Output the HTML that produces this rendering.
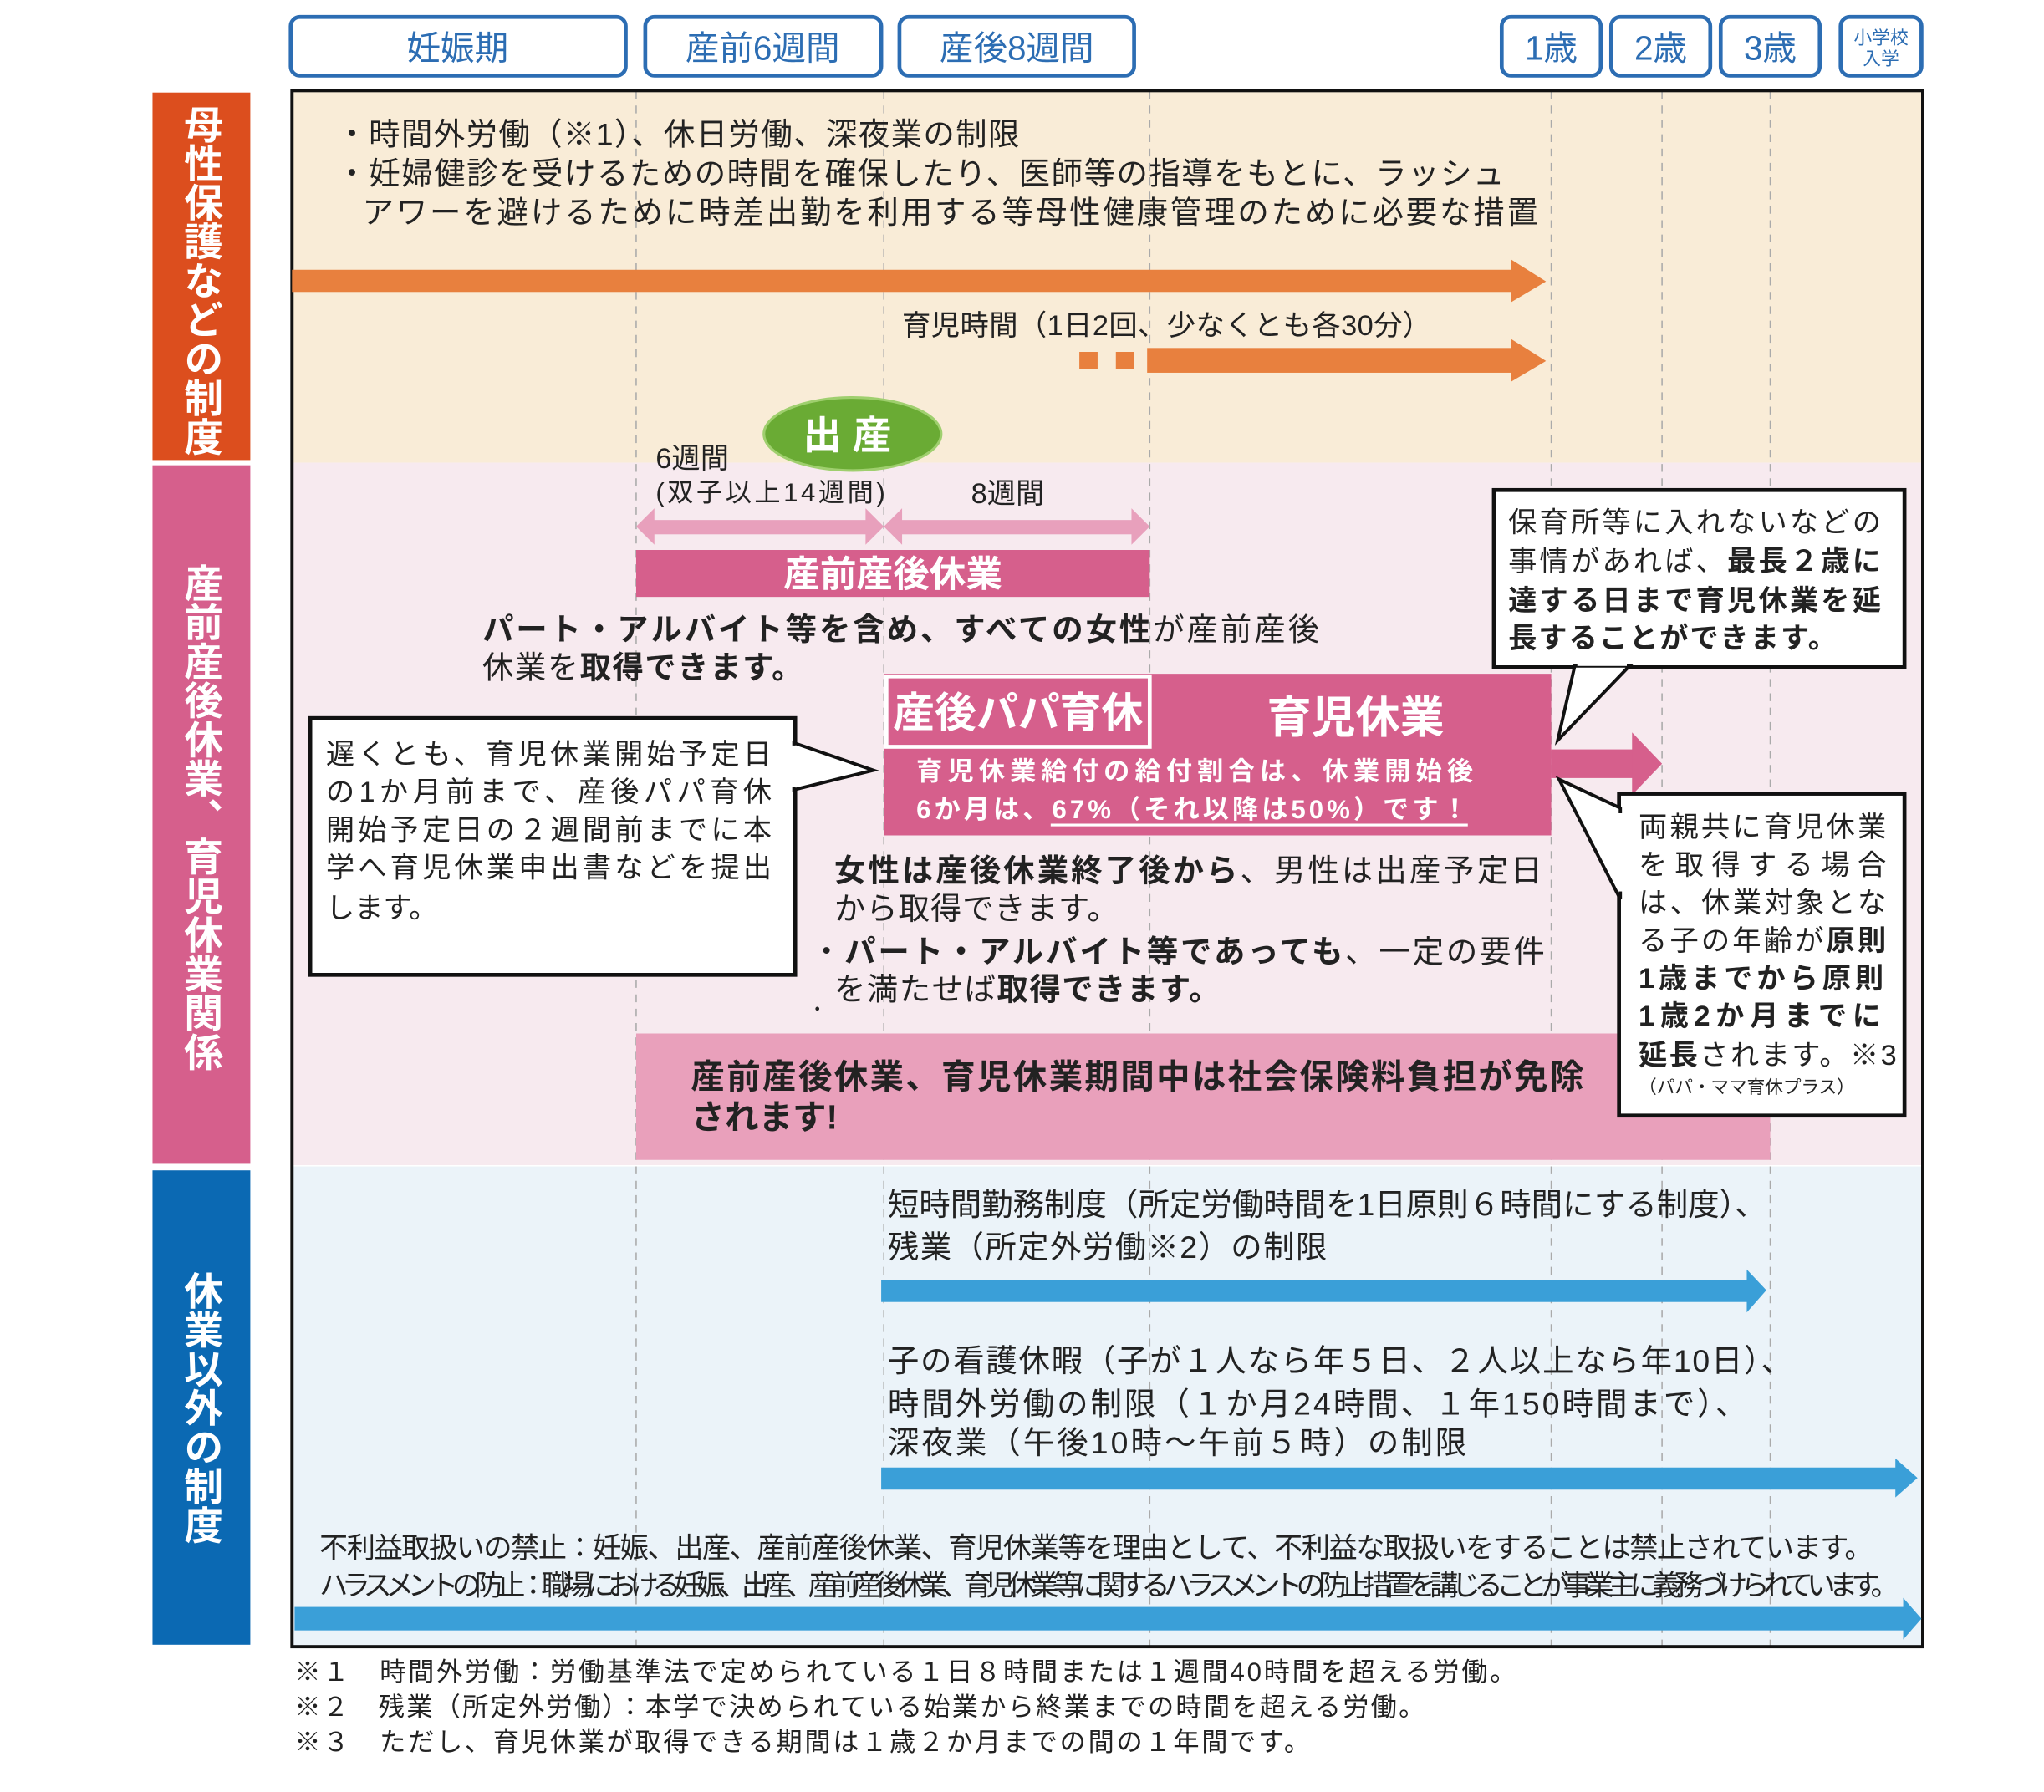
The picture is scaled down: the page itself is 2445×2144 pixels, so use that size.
<!DOCTYPE html>
<html><head><meta charset="utf-8"><style>
html,body{margin:0;padding:0;background:#fff;}
svg{display:block;}
text{font-family:"Liberation Sans","Noto Sans CJK JP",sans-serif;}
.b{font-weight:bold;}
</style></head><body>
<svg width="2445" height="2144" viewBox="0 0 1568 1375" xmlns="http://www.w3.org/2000/svg">
<rect width="1568" height="1375" fill="#fff"/>
<g fill="#fff" stroke="#2c6db3" stroke-width="3">
<rect x="223" y="13" width="257" height="45" rx="7"/>
<rect x="495" y="13" width="181" height="45" rx="7"/>
<rect x="690" y="13" width="180" height="45" rx="7"/>
<rect x="1152" y="13" width="76" height="45" rx="7"/>
<rect x="1236" y="13" width="76" height="45" rx="7"/>
<rect x="1320" y="13" width="76" height="45" rx="7"/>
<rect x="1412" y="13" width="62" height="45" rx="7"/>
</g>
<g fill="#2c6db3" font-size="26" text-anchor="middle" dominant-baseline="central">
<text x="351" y="37">妊娠期</text>
<text x="585" y="37">産前6週間</text>
<text x="780" y="37">産後8週間</text>
<text x="1190" y="37">1歳</text>
<text x="1274" y="37">2歳</text>
<text x="1358" y="37">3歳</text>
<text x="1443" y="29" font-size="14">小学校</text>
<text x="1443" y="45" font-size="14">入学</text>
</g>
<rect x="224" y="70" width="1251" height="285" fill="#f9ecd7"/>
<rect x="224" y="355" width="1251" height="539" fill="#f7eaef"/>
<rect x="224" y="895" width="1251" height="369" fill="#ebf3f9"/>
<rect x="117" y="71" width="75" height="282" fill="#dc4e1e"/>
<rect x="117" y="357" width="75" height="536" fill="#d65f8c"/>
<rect x="117" y="898" width="75" height="364" fill="#0b69b3"/>
<g fill="#fff" font-size="30" class="b">
<text x="154" y="80" style="writing-mode:tb">母性保護などの制度</text>
<text x="154" y="432" style="writing-mode:tb">産前産後休業、育児休業関係</text>
<text x="154" y="975" style="writing-mode:tb">休業以外の制度</text>
</g>
<g stroke="#aaa" stroke-width="1" stroke-dasharray="6,5">
<line x1="488" y1="70" x2="488" y2="1263"/>
<line x1="678" y1="70" x2="678" y2="1263"/>
<line x1="882" y1="70" x2="882" y2="1263"/>
<line x1="1190" y1="70" x2="1190" y2="1263"/>
<line x1="1275" y1="70" x2="1275" y2="1263"/>
<line x1="1358" y1="70" x2="1358" y2="1263"/>
</g>
<rect x="224" y="69.5" width="1251" height="1194" fill="none" stroke="#111" stroke-width="2.5"/>
<g fill="#222" font-size="24" dominant-baseline="central">
<text x="258" y="103" textLength="524">・時間外労働（※1）、休日労働、深夜業の制限</text>
<text x="258" y="133" textLength="896">・妊婦健診を受けるための時間を確保したり、医師等の指導をもとに、ラッシュ</text>
<text x="278" y="163" textLength="902">アワーを避けるために時差出勤を利用する等母性健康管理のために必要な措置</text>
<text x="692" y="250" font-size="22" textLength="406">育児時間（1日2回、少なくとも各30分）</text>
</g>
<g fill="#e8803e">
<rect x="224" y="207" width="937" height="17"/>
<polygon points="1159,199 1186,216 1159,232"/>
<rect x="828" y="270" width="14" height="13"/>
<rect x="856" y="270" width="14" height="13"/>
<rect x="880" y="267" width="281" height="19"/>
<polygon points="1159,260 1186,277 1159,293"/>
</g>
<ellipse cx="654" cy="333" rx="68" ry="28" fill="#6aab34" stroke="#9fcf6e" stroke-width="2"/>
<text x="654" y="334" fill="#fff" font-size="30" class="b" text-anchor="middle" dominant-baseline="central" letter-spacing="8">出産</text>
<g fill="#222" dominant-baseline="central">
<text x="503" y="352" font-size="22">6週間</text>
<text x="503" y="378" font-size="20" textLength="176">(双子以上14週間)</text>
<text x="745" y="379" font-size="22">8週間</text>
</g>
<g fill="#e8a0bc">
<rect x="500" y="399" width="166" height="11"/>
<polygon points="488,404 502,390 502,418"/>
<polygon points="678,404 664,390 664,418"/>
<rect x="690" y="399" width="180" height="11"/>
<polygon points="678,404 692,390 692,418"/>
<polygon points="882,404 868,390 868,418"/>
</g>
<rect x="488" y="422" width="394" height="36" fill="#d65f8c"/>
<text x="685" y="441" fill="#fff" font-size="28" class="b" text-anchor="middle" dominant-baseline="central">産前産後休業</text>
<g fill="#222" font-size="24" dominant-baseline="central">
<text x="370" y="483" textLength="642"><tspan class="b">パート・アルバイト等を含め、すべての女性</tspan>が産前産後</text>
<text x="370" y="512" textLength="246">休業を<tspan class="b">取得できます。</tspan></text>
</g>
<rect x="678" y="517" width="512" height="124" fill="#d65f8c"/>
<rect x="680" y="519" width="202" height="54" fill="#d65f8c" stroke="#fff" stroke-width="3"/>
<text x="781" y="547" fill="#fff" font-size="32" class="b" text-anchor="middle" dominant-baseline="central">産後パパ育休</text>
<text x="1040" y="551" fill="#fff" font-size="34" class="b" text-anchor="middle" dominant-baseline="central">育児休業</text>
<g fill="#fff" font-size="20" class="b" dominant-baseline="central">
<text x="703" y="592" textLength="427">育児休業給付の給付割合は、休業開始後</text>
<text x="703" y="621" textLength="423">6か月は、67%（それ以降は50%）です！</text>
</g>
<line x1="806" y1="633" x2="1126" y2="633" stroke="#fff" stroke-width="2"/>
<rect x="1190" y="575" width="65" height="22" fill="#d65f8c"/>
<polygon points="1252,562 1275,586 1252,610" fill="#d65f8c"/>
<rect x="1146" y="376" width="315" height="136" fill="#fff" stroke="#111" stroke-width="3"/>
<polygon points="1208,511 1195,568 1250,511" fill="#fff" stroke="#111" stroke-width="2.5"/>
<rect x="1210" y="506" width="38" height="5" fill="#fff"/>
<g fill="#222" font-size="22" dominant-baseline="central">
<text x="1157" y="401" textLength="286">保育所等に入れないなどの</text>
<text x="1157" y="431" textLength="286">事情があれば、<tspan class="b">最長２歳に</tspan></text>
<text x="1157" y="461" class="b" textLength="286">達する日まで育児休業を延</text>
<text x="1157" y="490" class="b" textLength="252">長することができます。</text>
</g>
<rect x="238" y="551" width="372" height="197" fill="#fff" stroke="#111" stroke-width="3"/>
<polygon points="609,570 670,591 609,606" fill="#fff" stroke="#111" stroke-width="2.5"/>
<rect x="604" y="572" width="7" height="32" fill="#fff"/>
<g fill="#222" font-size="22" dominant-baseline="central">
<text x="250" y="579" textLength="342">遅くとも、育児休業開始予定日</text>
<text x="250" y="608" textLength="342">の1か月前まで、産後パパ育休</text>
<text x="250" y="637" textLength="342">開始予定日の２週間前までに本</text>
<text x="250" y="666" textLength="342">学へ育児休業申出書などを提出</text>
<text x="250" y="697">します。</text>
</g>
<g fill="#222" font-size="24" dominant-baseline="central">
<text x="640" y="668" textLength="543"><tspan class="b">女性は産後休業終了後から</tspan>、男性は出産予定日</text>
<text x="640" y="697" textLength="218">から取得できます。</text>
<text x="622" y="730" textLength="563">・<tspan class="b">パート・アルバイト等であっても</tspan>、一定の要件</text>
<text x="640" y="759" textLength="296">を満たせば<tspan class="b">取得できます。</tspan></text>
</g>
<circle cx="627" cy="774" r="1.5" fill="#222"/>
<rect x="488" y="793" width="870" height="97" fill="#e9a0bb"/>
<g fill="#222" font-size="26" class="b" dominant-baseline="central">
<text x="530" y="826" textLength="685">産前産後休業、育児休業期間中は社会保険料負担が免除</text>
<text x="530" y="857">されます!</text>
</g>
<rect x="1242" y="609" width="219" height="247" fill="#fff" stroke="#111" stroke-width="3"/>
<polygon points="1243,620 1196,598 1243,690" fill="#fff" stroke="#111" stroke-width="2.5"/>
<rect x="1241" y="624" width="6" height="60" fill="#fff"/>
<g fill="#222" font-size="22" dominant-baseline="central">
<text x="1257" y="635" textLength="190">両親共に育児休業</text>
<text x="1257" y="664" textLength="190">を取得する場合</text>
<text x="1257" y="693" textLength="190">は、休業対象とな</text>
<text x="1257" y="722" textLength="190">る子の年齢が<tspan class="b">原則</tspan></text>
<text x="1257" y="751" class="b" textLength="188">1歳までから原則</text>
<text x="1257" y="780" class="b" textLength="186">1歳2か月までに</text>
<text x="1257" y="810" textLength="198"><tspan class="b">延長</tspan>されます。※3</text>
<text x="1257" y="834" font-size="14" textLength="166">（パパ・ママ育休プラス）</text>
</g>
<g fill="#222" font-size="24" dominant-baseline="central">
<text x="681" y="924" textLength="674">短時間勤務制度（所定労働時間を1日原則６時間にする制度）、</text>
<text x="681" y="957" textLength="337">残業（所定外労働※2）の制限</text>
<text x="681" y="1044" textLength="694">子の看護休暇（子が１人なら年５日、２人以上なら年10日）、</text>
<text x="681" y="1077" textLength="659">時間外労働の制限（１か月24時間、１年150時間まで）、</text>
<text x="681" y="1107" textLength="444">深夜業（午後10時～午前５時）の制限</text>
<text x="245" y="1188" font-size="22" textLength="1192">不利益取扱いの禁止：妊娠、出産、産前産後休業、育児休業等を理由として、不利益な取扱いをすることは禁止されています。</text>
<text x="245" y="1217" font-size="22" textLength="1212">ハラスメントの防止：職場における妊娠、出産、産前産後休業、育児休業等に関するハラスメントの防止措置を講じることが事業主に義務づけられています。</text>
</g>
<g fill="#3a9fd8">
<rect x="676" y="982" width="666" height="17"/>
<polygon points="1340,974 1355,990 1340,1007"/>
<rect x="676" y="1126" width="780" height="17"/>
<polygon points="1454,1119 1471,1134 1454,1149"/>
<rect x="226" y="1233" width="1236" height="18"/>
<polygon points="1460,1226 1474,1242 1460,1258"/>
</g>
<g fill="#222" font-size="20" dominant-baseline="central">
<text x="226" y="1283" textLength="937">※１　時間外労働：労働基準法で定められている１日８時間または１週間40時間を超える労働。</text>
<text x="226" y="1310" textLength="867">※２　残業（所定外労働）：本学で決められている始業から終業までの時間を超える労働。</text>
<text x="226" y="1337" textLength="779">※３　ただし、育児休業が取得できる期間は１歳２か月までの間の１年間です。</text>
</g>
</svg>
</body></html>
